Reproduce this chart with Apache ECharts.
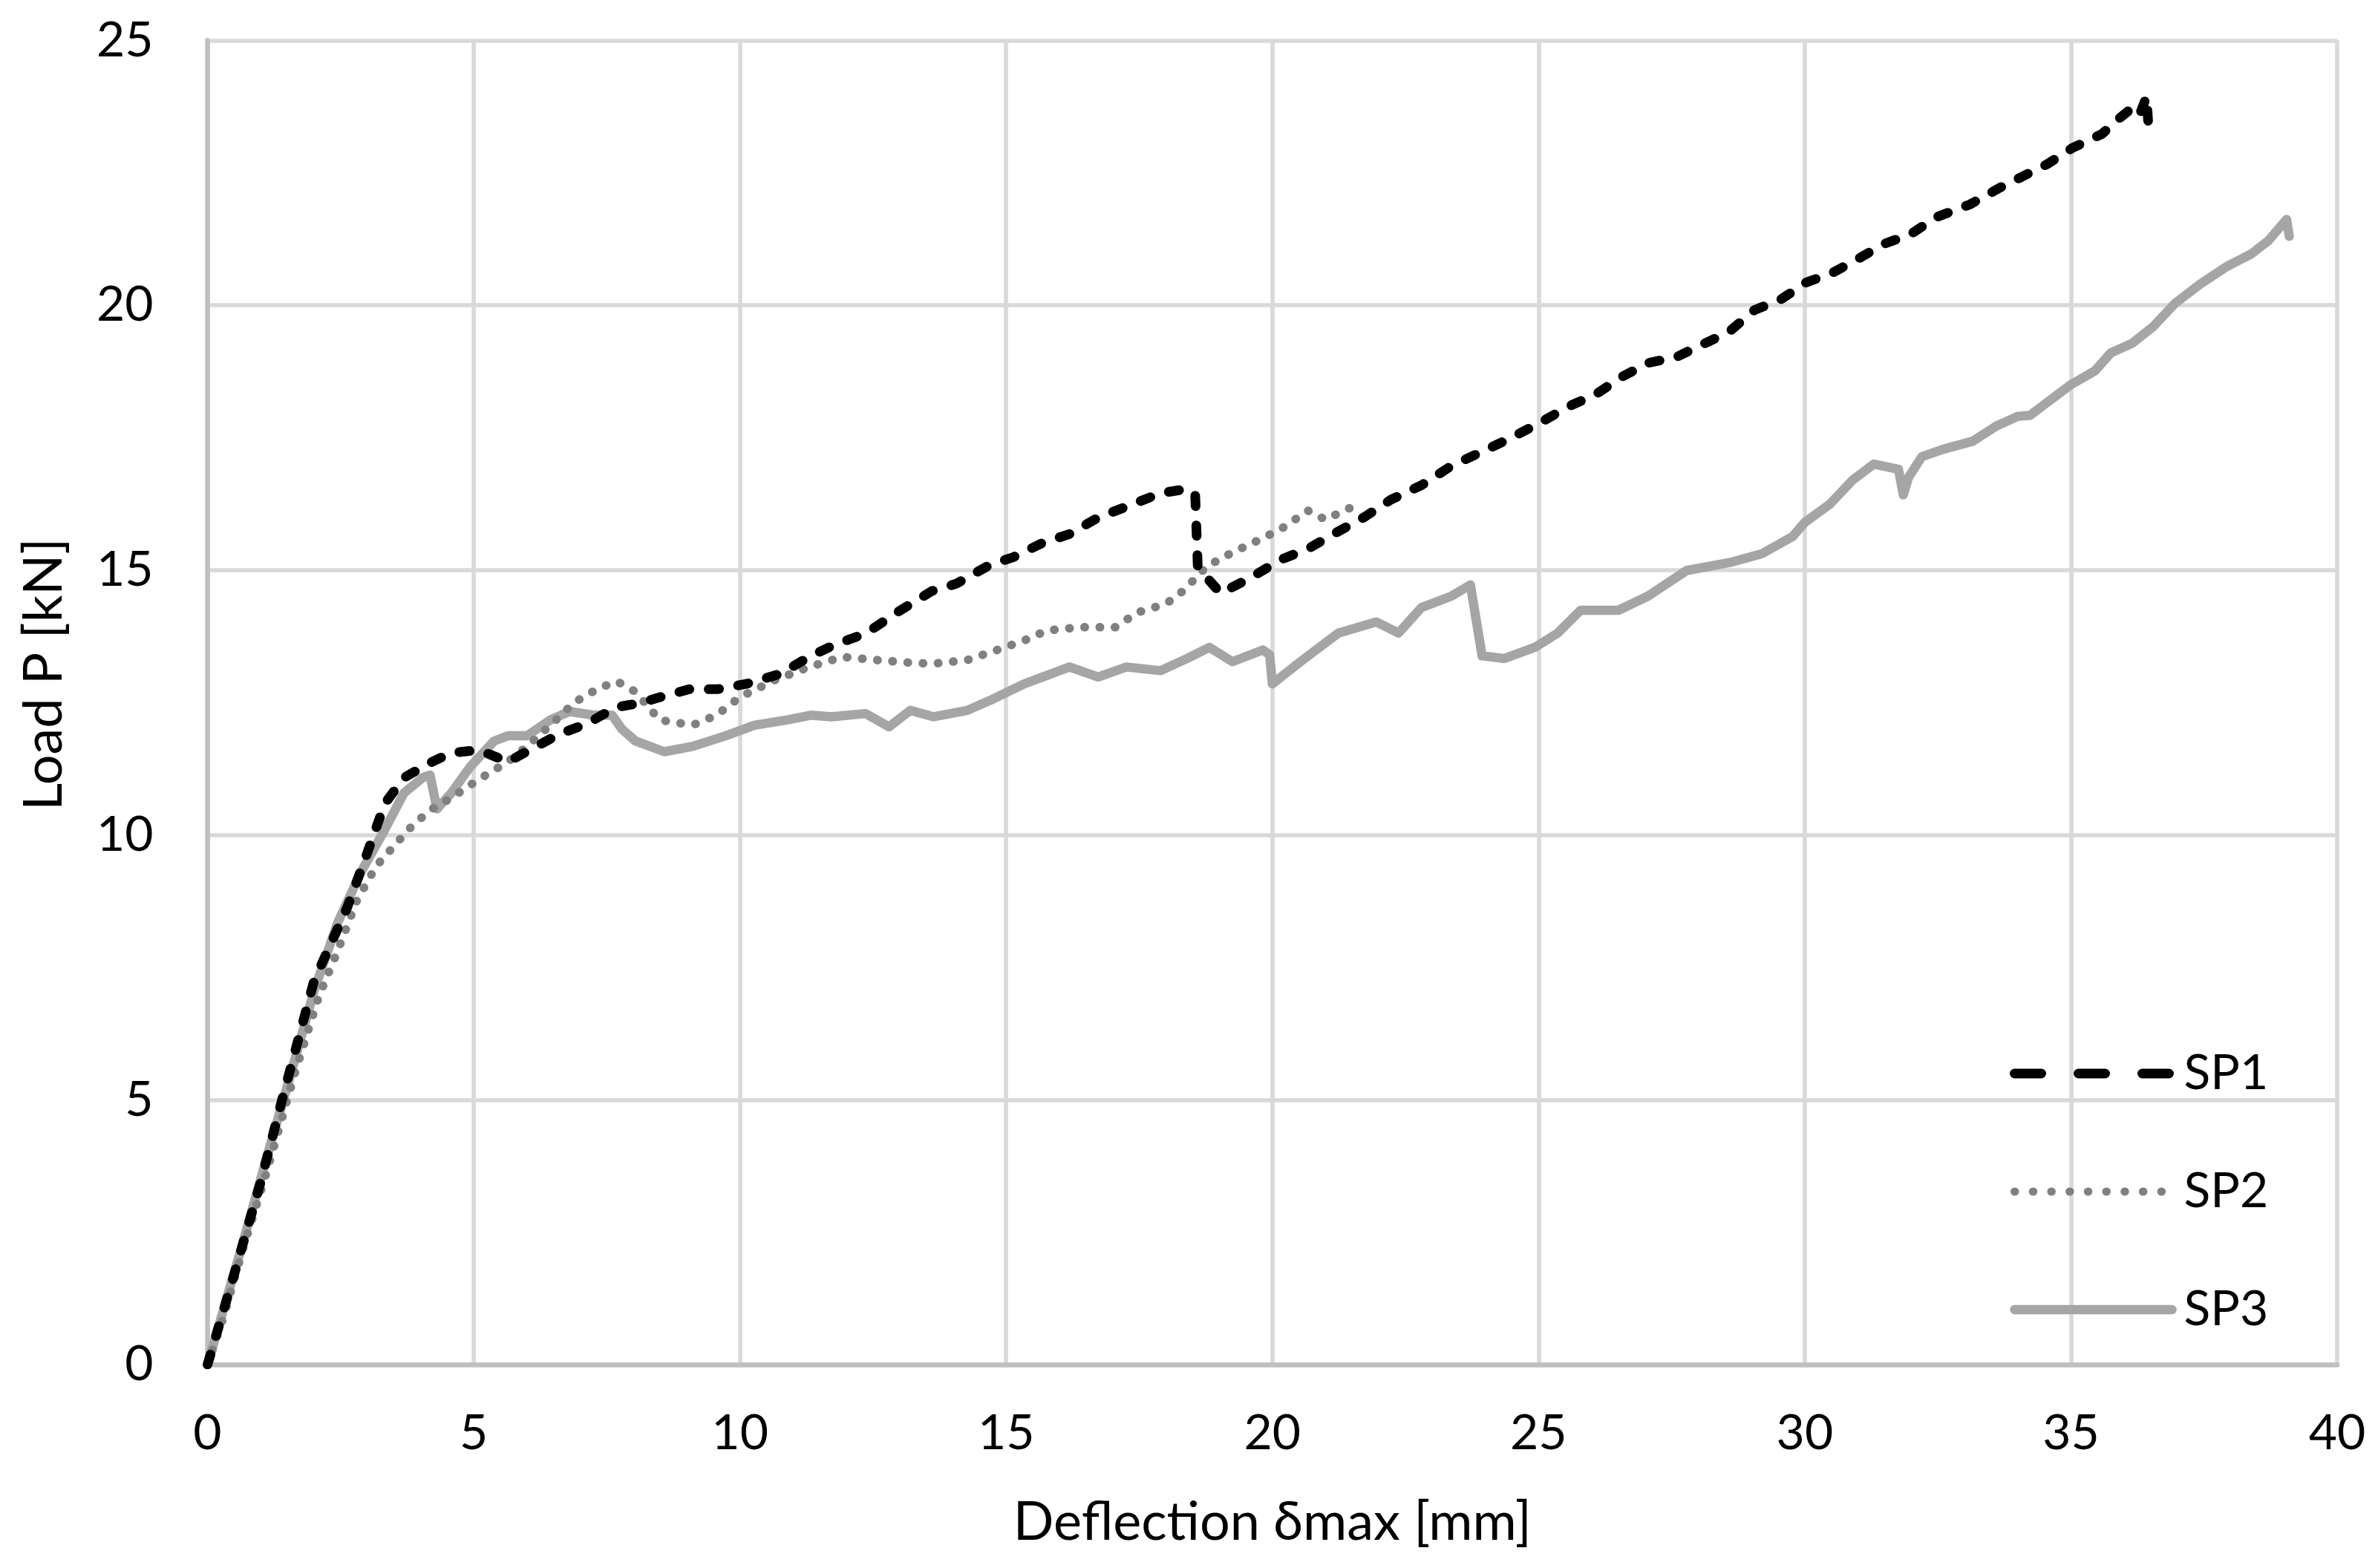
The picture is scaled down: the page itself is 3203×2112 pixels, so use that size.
<!DOCTYPE html>
<html>
<head>
<meta charset="utf-8">
<script src="https://cdn.jsdelivr.net/npm/echarts@6/dist/echarts.min.js"></script>
<style>
html,body{margin:0;padding:0;background:#fff;}
#chart{width:3203px;height:2112px;}
</style>
</head>
<body>
<div id="chart"></div>
<script>
// Deflection (mm) vs load (kN)
const sp1 = [[0,0],[0.5,1.7],[1.0,3.45],[1.38,4.92],[2.0,7.24],[2.62,8.62],[2.98,9.6],[3.33,10.59],[3.69,11.08],[4.22,11.38],[4.58,11.55],[5.1,11.6],[5.64,11.38],[6.18,11.67],[6.6,11.9],[7.13,12.1],[7.67,12.41],[8.09,12.48],[8.5,12.6],[9.05,12.75],[9.58,12.75],[10.12,12.85],[10.76,13.04],[11.3,13.36],[11.8,13.6],[12.36,13.8],[13.0,14.23],[13.6,14.6],[14.06,14.74],[14.7,15.1],[15.13,15.24],[15.66,15.5],[16.19,15.68],[16.73,15.99],[17.37,16.24],[17.9,16.45],[18.33,16.52],[18.55,16.45],[18.6,15.05],[19.03,14.56],[19.6,14.86],[20.17,15.2],[20.67,15.4],[21.17,15.69],[21.73,16.0],[22.23,16.33],[22.8,16.6],[23.37,16.97],[24.06,17.29],[24.55,17.53],[25.08,17.81],[25.57,18.09],[26.08,18.32],[26.57,18.65],[27.06,18.91],[27.59,19.02],[28.08,19.26],[28.57,19.49],[29.06,19.91],[29.54,20.1],[30.03,20.43],[30.52,20.61],[30.94,20.84],[31.5,21.16],[31.99,21.34],[32.47,21.66],[33.1,21.9],[33.67,22.22],[34.15,22.46],[34.55,22.66],[35.03,22.97],[35.58,23.23],[35.9,23.52],[36.18,23.75],[36.3,23.62],[36.42,23.94],[36.46,23.3]];

const sp2 = [[0,0],[0.3,0.9],[0.67,2.2],[1.1,3.6],[1.64,5.5],[2.09,6.95],[2.44,7.8],[2.8,8.75],[3.16,9.4],[3.51,9.8],[3.87,10.2],[4.22,10.49],[4.58,10.7],[5.1,11.05],[5.64,11.38],[6.0,11.67],[6.44,12.07],[6.89,12.5],[7.33,12.76],[7.69,12.9],[8.04,12.7],[8.49,12.17],[9.11,12.07],[9.56,12.26],[10.0,12.6],[10.65,12.92],[11.3,13.17],[11.93,13.36],[12.57,13.3],[13.2,13.25],[13.6,13.23],[14.27,13.3],[14.8,13.48],[15.34,13.67],[15.77,13.86],[16.4,13.92],[17.05,13.92],[17.47,14.2],[18.0,14.36],[18.33,14.61],[18.75,15.05],[19.07,15.24],[19.5,15.45],[19.82,15.6],[20.2,15.8],[20.67,16.12],[21.0,15.95],[21.3,16.1],[21.7,16.28]];

const sp3 = [[0,0],[0.67,2.32],[1.11,3.9],[1.56,5.47],[2.0,7.05],[2.44,8.33],[2.89,9.31],[3.33,10.1],[3.69,10.79],[4.04,11.08],[4.18,11.13],[4.31,10.49],[4.58,10.79],[4.93,11.28],[5.38,11.77],[5.64,11.87],[6.0,11.87],[6.44,12.17],[6.8,12.33],[7.24,12.26],[7.6,12.26],[7.78,12.0],[8.04,11.77],[8.58,11.57],[9.11,11.67],[9.73,11.87],[10.27,12.07],[10.89,12.17],[11.33,12.26],[11.72,12.23],[12.36,12.29],[12.8,12.04],[13.2,12.35],[13.64,12.23],[14.27,12.35],[14.7,12.54],[15.34,12.85],[16.19,13.17],[16.73,12.98],[17.26,13.17],[17.9,13.1],[18.4,13.33],[18.82,13.54],[19.25,13.27],[19.82,13.49],[19.95,13.4],[20.0,12.85],[20.53,13.27],[21.24,13.81],[21.95,14.02],[22.37,13.81],[22.8,14.29],[23.37,14.51],[23.72,14.72],[23.94,13.38],[24.36,13.33],[24.93,13.54],[25.36,13.81],[25.79,14.24],[26.5,14.24],[27.06,14.51],[27.78,14.99],[28.63,15.15],[29.2,15.31],[29.77,15.63],[30.0,15.9],[30.48,16.25],[30.9,16.7],[31.3,17.0],[31.76,16.9],[31.85,16.42],[31.95,16.75],[32.2,17.14],[32.6,17.28],[33.15,17.43],[33.6,17.72],[34.0,17.9],[34.23,17.92],[34.6,18.2],[35.0,18.5],[35.45,18.76],[35.75,19.1],[36.15,19.28],[36.55,19.6],[36.95,20.03],[37.43,20.4],[37.91,20.72],[38.39,20.97],[38.71,21.22],[39.05,21.62],[39.1,21.3]];

const seriesNames = ['SP1','SP2','SP3'];
const xTitle = 'Deflection δmax [mm]';
const yTitle = 'Load P [kN]';

const FONT = 'Lato, "Open Sans", "Noto Sans", sans-serif';
const chart = echarts.init(document.getElementById('chart'), null, {renderer:'canvas'});

const gridLine = {show:true, lineStyle:{color:'#d9d9d9', width:5.6}};
const axisLineStyle = {show:true, lineStyle:{color:'#bfbfbf', width:6.5}};
const hidden = {color:'rgba(0,0,0,0)', opacity:0, borderWidth:0};

chart.setOption({
  animation:false,
  backgroundColor:'#ffffff',
  grid:{left:279.5, right:55, top:54.3, bottom:274, containLabel:false},
  xAxis:{
    type:'value', min:0, max:40, interval:5,
    axisLine:axisLineStyle, axisTick:{show:false},
    splitLine:gridLine,
    axisLabel:{color:'#000', fontFamily:FONT, fontSize:66, lineHeight:66, margin:60},
    name:xTitle, nameLocation:'middle', nameGap:177,
    nameTextStyle:{color:'#000', fontFamily:FONT, fontSize:72, lineHeight:72}
  },
  yAxis:{
    type:'value', min:0, max:25, interval:5,
    axisLine:axisLineStyle, axisTick:{show:false},
    splitLine:gridLine,
    axisLabel:{color:'#000', fontFamily:FONT, fontSize:66, lineHeight:66, margin:73},
    name:yTitle, nameLocation:'middle', nameGap:184, nameRotate:90,
    nameTextStyle:{color:'#000', fontFamily:FONT, fontSize:72, lineHeight:72, padding:[0,0,0,76]}
  },
  legend:{
    orient:'vertical', left:2702, top:1406,
    itemWidth:212, itemHeight:1, itemGap:89,
    textStyle:{color:'#000', fontFamily:FONT, fontSize:66, lineHeight:70, padding:[0,0,0,11]},
    data:[
      {name:seriesNames[0], itemStyle:hidden, lineStyle:{color:'#000000', width:13, type:[36,50], cap:'round'}},
      {name:seriesNames[1], itemStyle:hidden, lineStyle:{color:'#808080', width:11, type:[0.5,24.2], cap:'round'}},
      {name:seriesNames[2], itemStyle:hidden, lineStyle:{color:'#a5a5a5', width:12.5, type:'solid', cap:'round'}}
    ]
  },
  series:[
    {name:seriesNames[2], type:'line', data:sp3, symbol:'none', showSymbol:false, z:2,
     itemStyle:{color:'#a5a5a5'},
     lineStyle:{color:'#a5a5a5', width:12.5, type:'solid', cap:'round', join:'round'}},
    {name:seriesNames[1], type:'line', data:sp2, symbol:'none', showSymbol:false, z:3,
     itemStyle:{color:'#808080'},
     lineStyle:{color:'#808080', width:11.5, type:[0.5,20], cap:'round', join:'round'}},
    {name:seriesNames[0], type:'line', data:sp1, symbol:'none', showSymbol:false, z:4,
     itemStyle:{color:'#000000'},
     lineStyle:{color:'#000000', width:13, type:[14,26], cap:'round', join:'round'}}
  ]
});
</script>
</body>
</html>
